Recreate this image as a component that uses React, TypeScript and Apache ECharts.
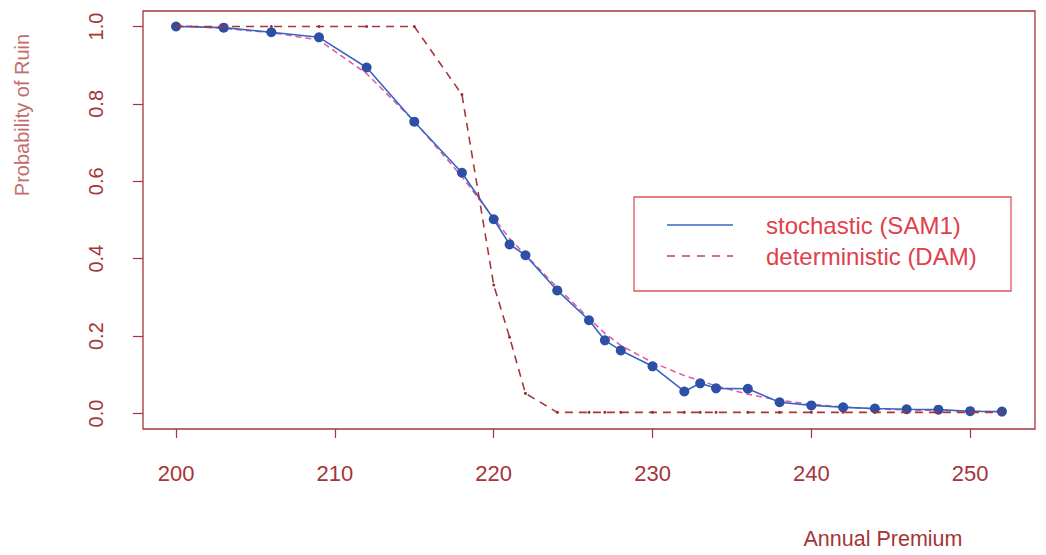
import React, { useEffect, useRef } from "react";
import * as echarts from "echarts";

const premiums = [200, 203, 206, 209, 212, 215, 218, 220, 221, 222, 224, 226, 227, 228, 230, 232, 233, 234, 236, 238, 240, 242, 244, 246, 248, 250, 252];
const stochastic = [1.0, 0.997, 0.985, 0.972, 0.894, 0.754, 0.622, 0.502, 0.437, 0.409, 0.318, 0.241, 0.189, 0.163, 0.122, 0.057, 0.078, 0.065, 0.064, 0.029, 0.021, 0.016, 0.013, 0.011, 0.01, 0.006, 0.005];
const deterministic = [1.0, 1.0, 1.0, 1.0, 1.0, 1.0, 0.824, 0.332, 0.197, 0.052, 0.003, 0.003, 0.003, 0.003, 0.003, 0.003, 0.003, 0.003, 0.003, 0.003, 0.003, 0.003, 0.003, 0.003, 0.003, 0.003, 0.003];
const fitted = [1.003, 0.995, 0.984, 0.965, 0.878, 0.755, 0.612, 0.505, 0.452, 0.41, 0.326, 0.246, 0.207, 0.176, 0.132, 0.098, 0.085, 0.071, 0.05, 0.034, 0.024, 0.017, 0.012, 0.009, 0.008, 0.006, 0.005];
const xTicks = [200, 210, 220, 230, 240, 250];
const yTicks = [0, 0.2, 0.4, 0.6, 0.8, 1.0];
const legendLabels = ["stochastic (SAM1)", "deterministic (DAM)"];

const AXIS = "#a53538";
const FONT = "'Liberation Sans', Arial, Helvetica, sans-serif";

export default function App() {
  const ref = useRef<HTMLDivElement>(null);
  useEffect(() => {
    document.body.style.margin = "0";
    const chart = echarts.init(ref.current!, null, { renderer: "svg" });
    const pair = (ys: number[]) => premiums.map((x, i) => [x, ys[i]]);
    chart.setOption({
      animation: false,
      backgroundColor: "#ffffff",
      grid: {
        left: 143,
        top: 11,
        width: 892,
        height: 418,
        show: true,
        borderColor: AXIS,
        borderWidth: 1.3,
        backgroundColor: "transparent",
      },
      xAxis: {
        type: "value",
        min: 197.92,
        max: 254.08,
        axisLine: { show: false, onZero: false },
        splitLine: { show: false },
        axisTick: { show: true, length: 9, customValues: xTicks, lineStyle: { color: AXIS, width: 1.2 } },
        axisLabel: {
          customValues: xTicks,
          margin: 33,
          color: AXIS,
          fontSize: 22,
          fontFamily: FONT,
        },
      },
      yAxis: {
        type: "value",
        min: -0.04,
        max: 1.04,
        axisLine: { show: false, onZero: false },
        splitLine: { show: false },
        axisTick: { show: true, length: 10, customValues: yTicks, lineStyle: { color: AXIS, width: 1.2 } },
        axisLabel: {
          customValues: yTicks,
          rotate: 90,
          margin: 37,
          color: AXIS,
          fontSize: 20,
          fontFamily: FONT,
          formatter: (v: number) => v.toFixed(1),
        },
      },
      series: [
        {
          type: "line",
          data: pair(fitted),
          showSymbol: false,
          symbol: "none",
          lineStyle: { color: "#e8559c", width: 1.5, type: [6, 4] },
          z: 2,
        },
        {
          name: legendLabels[0],
          type: "line",
          data: pair(stochastic),
          symbol: "circle",
          symbolSize: 10,
          itemStyle: { color: "#2b50a6" },
          lineStyle: { color: "#3566c4", width: 1.6 },
          z: 3,
        },
        {
          name: legendLabels[1],
          type: "line",
          data: pair(deterministic),
          symbol: "circle",
          symbolSize: 3,
          itemStyle: { color: "#9e2f33" },
          lineStyle: { color: "#a6383b", width: 1.6, type: [8, 6] },
          z: 4,
        },
      ],
      graphic: [
        {
          type: "rect",
          shape: { x: 634, y: 197, width: 377, height: 94 },
          style: { fill: "transparent", stroke: "#e05458", lineWidth: 1.3 },
        },
        {
          type: "line",
          shape: { x1: 667, y1: 225, x2: 733, y2: 225 },
          style: { stroke: "#3566c4", lineWidth: 1.5 },
        },
        {
          type: "line",
          shape: { x1: 667, y1: 256, x2: 733, y2: 256 },
          style: { stroke: "#c4454c", lineWidth: 1.5, lineDash: [8, 7] },
        },
        {
          type: "text",
          x: 766,
          y: 225,
          style: { text: legendLabels[0], fill: "#e0404c", fontSize: 24, fontFamily: FONT, verticalAlign: "middle", align: "left" },
        },
        {
          type: "text",
          x: 766,
          y: 256,
          style: { text: legendLabels[1], fill: "#e0404c", fontSize: 24, fontFamily: FONT, verticalAlign: "middle", align: "left" },
        },
        {
          type: "text",
          x: 22,
          y: 115,
          rotation: Math.PI / 2,
          style: { text: "Probability of Ruin", fill: "#c46c6c", fontSize: 20, fontFamily: FONT, verticalAlign: "middle", align: "center" },
        },
        {
          type: "text",
          x: 883,
          y: 539,
          style: { text: "Annual Premium", fill: AXIS, fontSize: 21.5, fontFamily: FONT, verticalAlign: "middle", align: "center" },
        },
      ],
    });
    return () => chart.dispose();
  }, []);
  return <div ref={ref} style={{ width: 1046, height: 555 }} />;
}
